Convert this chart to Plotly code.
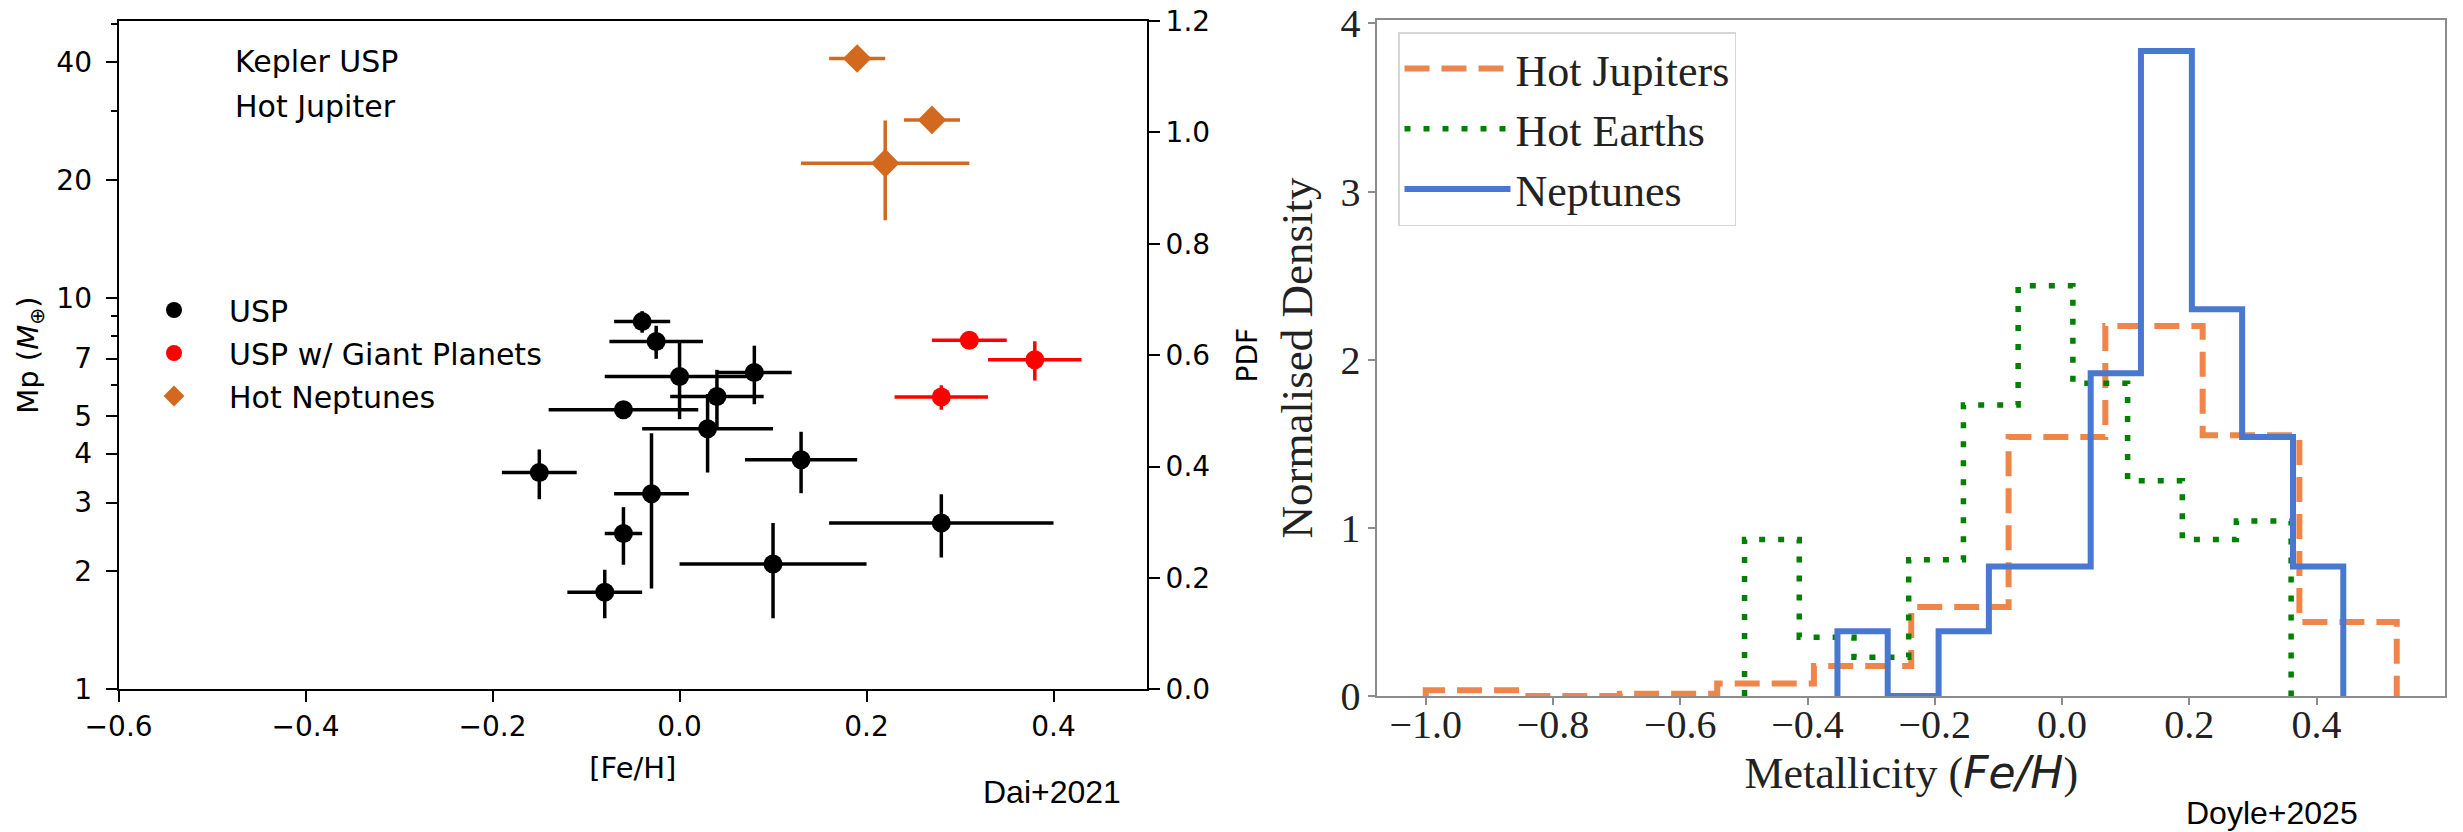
import plotly.graph_objects as go

# ---------------- Left panel data (Dai+2021) ----------------
usp_feh = [-0.04, -0.025, 0.00, 0.08, 0.04, -0.06, 0.03, 0.13, -0.15, -0.03, -0.06, -0.08, 0.10, 0.28]
usp_feh_err = [0.03, 0.05, 0.08, 0.04, 0.05, 0.08, 0.07, 0.06, 0.04, 0.04, 0.02, 0.04, 0.10, 0.12]
usp_mp = [8.7, 7.74, 6.30, 6.45, 5.60, 5.18, 4.63, 3.86, 3.58, 3.16, 2.50, 1.77, 2.09, 2.66]
usp_mp_err = [0.55, 0.75, 1.4, 1.1, 0.95, 0.2, 1.05, 0.69, 0.52, 1.35, 0.42, 0.25, 0.57, 0.49]

giant_feh = [0.31, 0.38, 0.28]
giant_feh_err = [0.04, 0.05, 0.05]
giant_mp = [7.8, 6.95, 5.58]
giant_mp_err = [0.3, 0.8, 0.4]

hotnep_feh = [0.19, 0.27, 0.22]
hotnep_feh_err = [0.03, 0.03, 0.09]
hotnep_mp = [40.9, 28.5, 22.1]
hotnep_mp_err = [1.0, 0.8, 6.3]

mp_ticks = [1, 2, 3, 4, 5, 7, 10, 20, 40]
mp_minor = [6, 8, 9, 30, 50]
feh_ticks = [-0.6, -0.4, -0.2, 0.0, 0.2, 0.4]
pdf_ticks = [0.0, 0.2, 0.4, 0.6, 0.8, 1.0, 1.2]

# ---------------- Right panel data (Doyle+2025) ----------------
hj_edges = [-1.000, -0.847, -0.695, -0.542, -0.390, -0.237, -0.084, 0.068, 0.221, 0.373, 0.526]
hj_density = [0.034, 0.0, 0.013, 0.075, 0.179, 0.53, 1.54, 2.20, 1.55, 0.44]

he_edges = [-0.499, -0.413, -0.327, -0.241, -0.155, -0.069, 0.017, 0.103, 0.189, 0.274, 0.360]
he_density = [0.93, 0.35, 0.23, 0.81, 1.73, 2.44, 1.86, 1.28, 0.93, 1.04]

nep_edges = [-0.353, -0.274, -0.194, -0.115, -0.035, 0.045, 0.124, 0.204, 0.283, 0.363, 0.442]
nep_density = [0.385, 0.0, 0.385, 0.77, 0.77, 1.92, 3.835, 2.30, 1.54, 0.77]

met_ticks = [-1.0, -0.8, -0.6, -0.4, -0.2, 0.0, 0.2, 0.4]
dens_ticks = [0, 1, 2, 3, 4]


def step_outline(edges, dens):
    xs = [edges[0]]
    ys = [0]
    for i, h in enumerate(dens):
        xs += [edges[i], edges[i + 1]]
        ys += [h, h]
    xs.append(edges[-1])
    ys.append(0)
    return xs, ys


W, H = 2463, 832
SANS = "DejaVu Sans"
SERIF = "Liberation Serif"

fig = go.Figure()


def err_trace(name, x, xe, y, ye, color, symbol, size, group):
    return go.Scatter(
        x=x, y=y, mode="markers", name=name,
        xaxis="x", yaxis="y", legend="legend", legendgroup=group,
        marker=dict(color=color, symbol=symbol, size=size, line=dict(width=0)),
        error_x=dict(type="data", array=xe, symmetric=True, color=color, thickness=3.5, width=0),
        error_y=dict(type="data", array=ye, symmetric=True, color=color, thickness=3.5, width=0),
    )


fig.add_trace(err_trace("USP", usp_feh, usp_feh_err, usp_mp, usp_mp_err, "black", "circle", 19, "g1"))
fig.add_trace(err_trace("USP w/ Giant Planets", giant_feh, giant_feh_err, giant_mp, giant_mp_err, "#FF0000", "circle", 19, "g2"))
fig.add_trace(err_trace("Hot Neptunes", hotnep_feh, hotnep_feh_err, hotnep_mp, hotnep_mp_err, "#D2691E", "diamond", 22, "g3"))
# empty trace so the right-hand PDF axis is realised
fig.add_trace(go.Scatter(x=[], y=[], xaxis="x", yaxis="y2", showlegend=False, hoverinfo="skip"))

hx, hy = step_outline(hj_edges, hj_density)
fig.add_trace(go.Scatter(x=hx, y=hy, mode="lines", name="Hot Jupiters", xaxis="x2", yaxis="y3",
                         legend="legend2", line=dict(color="#EE854A", width=6, dash="25px,12px")))
ex, ey = step_outline(he_edges, he_density)
fig.add_trace(go.Scatter(x=ex, y=ey, mode="lines", name="Hot Earths", xaxis="x2", yaxis="y3",
                         legend="legend2", line=dict(color="#008000", width=5.5, dash="6px,13px")))
nx, ny = step_outline(nep_edges, nep_density)
fig.add_trace(go.Scatter(x=nx, y=ny, mode="lines", name="Neptunes", xaxis="x2", yaxis="y3",
                         legend="legend2", line=dict(color="#4878D0", width=6)))

left_tick_font = dict(family=SANS, size=28, color="black")
right_tick_font = dict(family=SERIF, size=40, color="#222222")

fig.update_layout(
    width=W, height=H,
    margin=dict(l=0, r=0, t=0, b=0, autoexpand=False),
    paper_bgcolor="white", plot_bgcolor="white",
    showlegend=True,
    xaxis=dict(
        domain=[118.6 / W, 1147 / W], anchor="y", range=[-0.6, 0.5], automargin=False,
        tickmode="array", tickvals=feh_ticks, tickformat=".1f",
        ticks="outside", ticklen=11, tickwidth=2, tickcolor="black", ticklabelstandoff=0,
        showline=True, linecolor="black", linewidth=2, mirror=True,
        showgrid=False, zeroline=False, tickfont=left_tick_font,
        title=dict(text="[Fe/H]", font=dict(family=SANS, size=29, color="black"), standoff=16),
    ),
    yaxis=dict(
        domain=[1 - 689.3 / H, 1 - 21 / H], anchor="x", type="log", range=[0, 1.7076], automargin=False,
        tickmode="array", tickvals=mp_ticks, ticktext=[str(v) for v in mp_ticks],
        ticks="outside", ticklen=11, tickwidth=2, tickcolor="black", ticklabelstandoff=8,
        minor=dict(tickmode="array", tickvals=mp_minor, ticks="outside", ticklen=6, tickwidth=1.5, tickcolor="black", showgrid=False),
        showline=True, linecolor="black", linewidth=2, mirror=False,
        showgrid=False, zeroline=False, tickfont=left_tick_font,
        title=dict(text="Mp (<i>M</i><sub>⊕</sub>)", font=dict(family=SANS, size=29, color="black"), standoff=9),
    ),
    yaxis2=dict(
        overlaying="y", side="right", anchor="x", range=[0, 1.2], automargin=False,
        tickmode="array", tickvals=pdf_ticks, tickformat=".1f",
        ticks="outside", ticklen=11, tickwidth=2, tickcolor="black",
        showline=True, linecolor="black", linewidth=2,
        showgrid=False, zeroline=False, tickfont=left_tick_font,
        title=dict(text="PDF", font=dict(family=SANS, size=28, color="black"), standoff=28),
    ),
    xaxis2=dict(
        domain=[1377.4 / W, 2445.1 / W], anchor="y3", range=[-1.076, 0.602], automargin=False,
        tickmode="array", tickvals=met_ticks, tickformat=".1f",
        ticks="outside", ticklen=7, tickwidth=1.5, tickcolor="#8c8c8c", ticklabelstandoff=-15,
        showline=True, linecolor="#8c8c8c", linewidth=2, mirror=True,
        showgrid=False, zeroline=False, tickfont=right_tick_font,
        title=dict(text="Metallicity (<span style='font-family:DejaVu Sans'><i>Fe/H</i></span>)",
                   font=dict(family=SERIF, size=44, color="#222222"), standoff=6),
    ),
    yaxis3=dict(
        domain=[1 - 696 / H, 1 - 20 / H], anchor="x2", range=[0, 4.02], automargin=False,
        tickmode="array", tickvals=dens_ticks,
        ticks="outside", ticklen=7, tickwidth=1.5, tickcolor="#8c8c8c",
        showline=True, linecolor="#8c8c8c", linewidth=2, mirror=True,
        showgrid=False, zeroline=False, tickfont=right_tick_font,
        title=dict(text="Normalised Density", font=dict(family=SERIF, size=45, color="#222222"), standoff=14),
    ),
    legend=dict(
        x=119 / W, y=1 - 284 / H, xanchor="left", yanchor="top",
        font=dict(family=SANS, size=30, color="black"),
        bgcolor="rgba(0,0,0,0)", borderwidth=0, itemwidth=100,
        traceorder="grouped", tracegroupgap=1, itemsizing="trace",
    ),
    legend2=dict(
        x=1398 / W, y=1 - 32 / H, xanchor="left", yanchor="top",
        font=dict(family=SERIF, size=44, color="#222222"),
        bgcolor="white", bordercolor="#d6d6d6", borderwidth=1.5, itemwidth=106,
    ),
    annotations=[
        dict(text="Kepler USP", x=233 / W, y=1 - 62 / H, xref="paper", yref="paper",
             xanchor="left", yanchor="middle", showarrow=False, font=dict(family=SANS, size=30, color="black")),
        dict(text="Hot Jupiter", x=233 / W, y=1 - 107 / H, xref="paper", yref="paper",
             xanchor="left", yanchor="middle", showarrow=False, font=dict(family=SANS, size=30, color="black")),
        dict(text="Dai+2021", x=1052 / W, y=1 - 792 / H, xref="paper", yref="paper",
             xanchor="center", yanchor="middle", showarrow=False, font=dict(family="Liberation Sans", size=32, color="black")),
        dict(text="Doyle+2025", x=2272 / W, y=1 - 813 / H, xref="paper", yref="paper",
             xanchor="center", yanchor="middle", showarrow=False, font=dict(family="Liberation Sans", size=32, color="black")),
    ],
)

fig.write_html("out.html")
